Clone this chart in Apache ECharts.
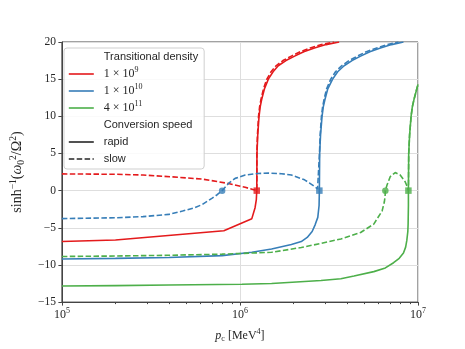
<!DOCTYPE html>
<html>
<head>
<meta charset="utf-8">
<script src="https://cdn.jsdelivr.net/npm/echarts@6.0.0/dist/echarts.min.js"></script>
<style>
html, body { margin: 0; padding: 0; background: #fff; }
#chart { width: 465px; height: 349px; }
</style>
</head>
<body>
<div id="chart"></div>
<script>
// p_c in MeV^4, y = asinh(w0^2 / Omega^2)
var redRapid = [[1e5, -6.85], [2e5, -6.65], [8.12e5, -5.4], [1.166e6, -3.77], [1.216e6, -2.3], [1.236e6, -1.2],
    [1.243e6, 0], [1.2463e6, 5], [1.2589e6, 7.5], [1.2801e6, 10], [1.2999e6, 11.3], [1.3251e6, 12.3],
    [1.3734e6, 13.7], [1.4437e6, 15], [1.535e6, 16], [1.6406e6, 16.8], [1.8126e6, 17.5], [2.0288e6, 18.1],
    [2.2823e6, 18.7], [2.62e6, 19.2], [3.0433e6, 19.65], [3.6076e6, 20]];
var redSlow = [[1e5, 2.25], [2e5, 2.2], [2.855e5, 2.1], [4.19e5, 1.85], [6.15e5, 1.55], [8.47e5, 1.0],
    [1.07e6, 0.45], [1.243e6, 0], [1.2447e6, 5], [1.2543e6, 7.5], [1.2719e6, 10], [1.2899e6, 11.3],
    [1.3134e6, 12.3], [1.3559e6, 13.7], [1.4161e6, 15], [1.4962e6, 16], [1.5951e6, 16.8], [1.7444e6, 17.5],
    [1.9449e6, 18.1], [2.1821e6, 18.7], [2.48e6, 19.2], [2.8731e6, 19.65], [3.3709e6, 20]];

var blueRapid = [[1e5, -9.2], [2e5, -9.12], [3.981e5, -9.0], [7.943e5, -8.75], [1.166e6, -8.3], [1.5058e6, -7.85],
    [1.9449e6, -7.25], [2.2104e6, -6.85], [2.3865e6, -6.3], [2.5439e6, -5.5], [2.6434e6, -4.6], [2.7364e6, -3.6],
    [2.7826e6, -2], [2.793e6, 0], [2.804e6, 5], [2.836e6, 7.5], [2.891e6, 10], [2.94e6, 11.3], [3.004e6, 12.3],
    [3.114e6, 13.7], [3.315e6, 15], [3.539e6, 16], [3.846e6, 16.8], [4.26e6, 17.5], [4.762e6, 18.1],
    [5.363e6, 18.7], [6.15e6, 19.2], [7.107e6, 19.65], [8.286e6, 20]];
var blueSlow = [[1e5, -3.77], [2e5, -3.65], [2.855e5, -3.5], [3.981e5, -3.2], [4.762e5, -2.75], [5.55e5, -2.3],
    [6.15e5, -1.87], [6.988e5, -1.0], [7.45e5, -0.55], [7.943e5, 0], [8.655e5, 1.0], [9.4e5, 1.65],
    [1.07e6, 2.1], [1.25e6, 2.3], [1.4437e6, 2.36], [1.711e6, 2.28], [1.945e6, 2.1], [2.306e6, 1.45],
    [2.45e6, 1.05], [2.62e6, 0.57], [2.729e6, 0.25], [2.793e6, 0], [2.797e6, 5], [2.822e6, 7.5], [2.869e6, 10],
    [2.9137e6, 11.3], [2.97e6, 12.3], [3.067e6, 13.7], [3.236e6, 15], [3.441e6, 16], [3.725e6, 16.8],
    [4.1e6, 17.5], [4.571e6, 18.1], [5.129e6, 18.7], [5.866e6, 19.2], [6.752e6, 19.65], [7.772e6, 20]];

var greenRapid = [[1e5, -12.84], [2e5, -12.78], [3.981e5, -12.7], [1.026e6, -12.6], [1.506e6, -12.5],
    [2.855e6, -12.1], [3.687e6, -11.85], [4.371e6, -11.5], [5.645e6, -10.9], [6.556e6, -10.4], [7.291e6, -9.7],
    [7.844e6, -9.1], [8.286e6, -8.4], [8.522e6, -7.6], [8.654e6, -6.7], [8.767e6, -5.5], [8.801e6, -4.5],
    [8.834e6, -2], [8.834e6, 0], [8.868e6, 5], [8.971e6, 7.5], [9.145e6, 10], [9.298e6, 11.3], [9.502e6, 12.3],
    [9.848e6, 13.7], [1e7, 14.3]];
var greenSlow = [[1e5, -8.86], [2e5, -8.8], [3.981e5, -8.7], [7.943e5, -8.55], [1.506e6, -8.3], [2.21e6, -7.65],
    [2.855e6, -7.1], [3.687e6, -6.5], [4.762e6, -5.63], [5.645e6, -4.5], [6.285e6, -2.75], [6.473e6, -1.5],
    [6.531e6, -0.8], [6.556e6, 0], [6.699e6, 0.75], [6.988e6, 1.9], [7.45e6, 2.43], [7.943e6, 2.1],
    [8.47e6, 1.2], [8.767e6, 0.35], [8.834e6, 0], [8.868e6, 5], [8.971e6, 7.5], [9.145e6, 10], [9.298e6, 11.3],
    [9.502e6, 12.3], [9.848e6, 13.7], [1e7, 14.3]];

// zero crossings: circles (blue, green) and squares (red, blue, green)
var circlePoints = [[7.943e5, 0], [6.556e6, 0]];
var squarePoints = [[1.243e6, 0], [2.793e6, 0], [8.834e6, 0]];

var densityNames = ['1 × 10^9', '1 × 10^10', '4 × 10^11'];
var speedNames = ['rapid', 'slow'];
var minorTicks = [2e5, 3e5, 4e5, 5e5, 6e5, 7e5, 8e5, 9e5, 2e6, 3e6, 4e6, 5e6, 6e6, 7e6, 8e6, 9e6];

var RED = '#e41a1c', BLUE = '#377eb8', GREEN = '#4daf4a', INK = '#262626', FRAME = '#444';
var SERIF = 'Liberation Serif', SANS = 'Liberation Sans';
var DASH = [5.5, 2.4];

var mathRich = {
    r: { fontFamily: SERIF, fontSize: 12, color: INK, lineHeight: 16 },
    i: { fontFamily: SERIF, fontStyle: 'italic', fontSize: 12, color: INK, lineHeight: 16 },
    s: { fontFamily: SERIF, fontSize: 8, color: INK, lineHeight: 8, padding: [0, 0, 8, 0] },
    b: { fontFamily: SERIF, fontSize: 8, color: INK, lineHeight: 8, padding: [6, 0, 0, 0] },
    t: { fontFamily: SANS, fontSize: 11, color: INK, lineHeight: 16 },
    g: { width: 5, fontSize: 11, lineHeight: 16 }
};

function lineSeries(name, data, color, dashed) {
    return {
        name: name, type: 'line', data: data, symbol: 'none',
        lineStyle: { color: color, width: 1.6, type: dashed ? DASH : 'solid' },
        itemStyle: { color: color }, z: 3
    };
}

var chart = echarts.init(document.getElementById('chart'), null, { renderer: 'canvas' });

var option = {
    animation: false,
    grid: { left: 58, right: 47, top: 42, bottom: 43, show: true, borderColor: FRAME, borderWidth: 1 },
    legend: {
        orient: 'vertical', left: 64, top: 48,
        itemWidth: 25, itemHeight: 16, itemGap: 1,
        padding: [1, 6, 2, 4],
        backgroundColor: 'rgba(255,255,255,0.85)', borderColor: '#cfcfcf', borderWidth: 1, borderRadius: 3,
        itemStyle: { opacity: 0 },
        lineStyle: { width: 1.6 },
        data: [{ name: 'Transitional density', icon: 'none' }].concat(densityNames)
            .concat([{ name: 'Conversion speed', icon: 'none' }]).concat(speedNames),
        formatter: function (name) {
            var p = name.split('^');
            if (p.length === 2) return '{g| }{r|' + p[0] + '}{s|' + p[1] + '}';
            return '{g| }{t|' + name + '}';
        },
        textStyle: { lineHeight: 16, rich: mathRich }
    },
    xAxis: [{
        type: 'log', logBase: 10, min: 1e5, max: 1e7,
        axisLine: { show: true, onZero: false, lineStyle: { color: FRAME, width: 1 } },
        axisTick: { show: true, length: 3.5, lineStyle: { color: FRAME } },
        axisLabel: {
            margin: 5,
            formatter: function (v) { return '{r|10}{s|' + Math.round(Math.log10(v)) + '}'; },
            rich: mathRich
        },
        splitLine: { show: true, lineStyle: { color: '#dedede', width: 1 } },
        name: '{i|p}{b|c}{r| [MeV}{s|4}{r|]}',
        nameLocation: 'middle', nameGap: 20,
        nameTextStyle: { rich: mathRich }
    }, {
        type: 'log', logBase: 10, min: 1e5, max: 1e7, position: 'bottom',
        axisLine: { show: false, onZero: false },
        axisTick: { show: true, length: 2, customValues: minorTicks, lineStyle: { color: FRAME } },
        axisLabel: { show: false },
        splitLine: { show: false }
    }],
    yAxis: {
        type: 'value', min: -15, max: 20, interval: 5,
        axisLine: { show: true, onZero: false, lineStyle: { color: FRAME, width: 1 } },
        axisTick: { show: true, length: 3.5, lineStyle: { color: FRAME } },
        axisLabel: {
            margin: 6, fontFamily: SERIF, fontSize: 11.5, color: INK,
            formatter: function (v) { return String(v).replace('-', '\u2212'); }
        },
        splitLine: { show: true, lineStyle: { color: '#dedede', width: 1 } },
        name: '{r|sinh}{s|\u22121}{r|(}{i|\u03c9}{b|0}{s|2}{r|/\u03a9}{s|2}{r|)}',
        nameLocation: 'middle', nameRotate: 90, nameGap: 30,
        nameTextStyle: { rich: {
            r: { fontFamily: SERIF, fontSize: 14, color: INK, lineHeight: 18 },
            i: { fontFamily: SERIF, fontStyle: 'italic', fontSize: 14, color: INK, lineHeight: 18 },
            s: { fontFamily: SERIF, fontSize: 9.5, color: INK, lineHeight: 9, padding: [0, 0, 9, 0] },
            b: { fontFamily: SERIF, fontSize: 9.5, color: INK, lineHeight: 9, padding: [7, 0, 0, 0] }
        } }
    },
    series: [
        lineSeries(densityNames[0], redRapid, RED, false),
        lineSeries('1e9 slow', redSlow, RED, true),
        lineSeries(densityNames[1], blueRapid, BLUE, false),
        lineSeries('1e10 slow', blueSlow, BLUE, true),
        lineSeries(densityNames[2], greenRapid, GREEN, false),
        lineSeries('4e11 slow', greenSlow, GREEN, true),
        lineSeries(speedNames[0], [], INK, false),
        lineSeries(speedNames[1], [], INK, true),
        { name: 'Transitional density', type: 'scatter', data: [] },
        { name: 'Conversion speed', type: 'scatter', data: [] },
        {
            name: 'turning circles', type: 'scatter', symbol: 'circle', symbolSize: 6.5, z: 4,
            data: circlePoints.map(function (p, k) {
                return { value: p, itemStyle: { color: [BLUE, GREEN][k] } };
            })
        },
        {
            name: 'turning squares', type: 'scatter', symbol: 'rect', symbolSize: 6.5, z: 4,
            data: squarePoints.map(function (p, k) {
                return { value: p, itemStyle: { color: [RED, BLUE, GREEN][k] } };
            })
        }
    ]
};

chart.setOption(option);
</script>
</body>
</html>
